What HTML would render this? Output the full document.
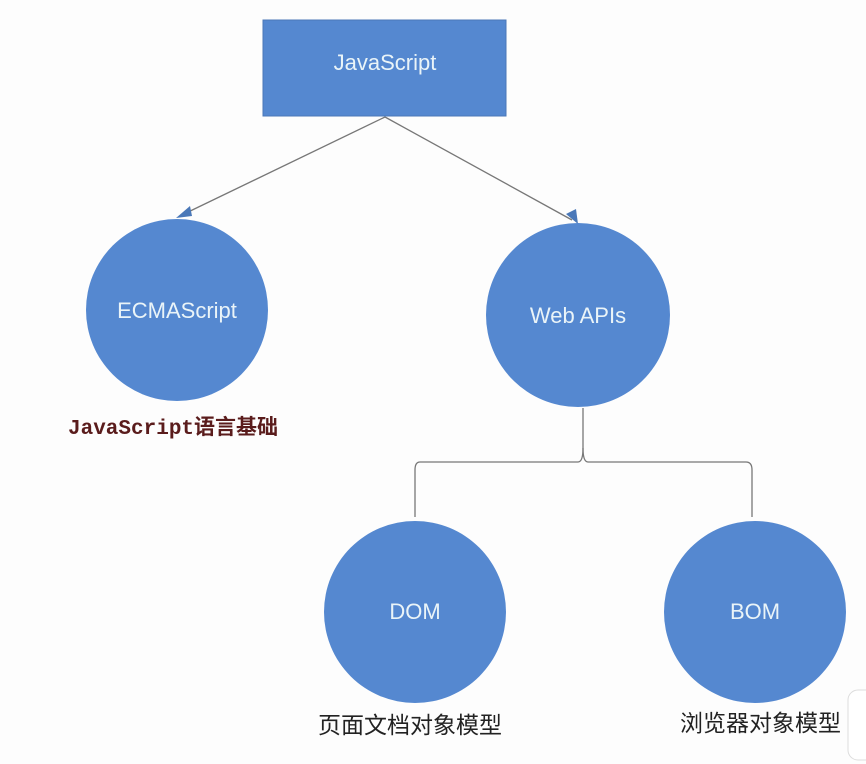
<!DOCTYPE html>
<html><head><meta charset="utf-8"><style>
html,body{margin:0;padding:0;background:#fdfdfd;}
svg{display:block;}
</style></head><body>
<svg width="866" height="764" viewBox="0 0 866 764" xmlns="http://www.w3.org/2000/svg">
<rect width="866" height="764" fill="#fdfdfd"/>
<rect x="263" y="20" width="243" height="96" fill="#5588d0" stroke="#4a78b8" stroke-width="1"/>
<text x="385" y="70" text-anchor="middle" font-family="Liberation Sans, sans-serif" font-size="22" fill="#eaf4f8">JavaScript</text>
<line x1="385" y1="117" x2="184" y2="214" stroke="#777" stroke-width="1.3"/>
<polygon points="176,218 190,206 192,216" fill="#4a78b8"/>
<line x1="385" y1="117" x2="572" y2="220" stroke="#777" stroke-width="1.3"/>
<polygon points="578,224 566,214 576,209" fill="#4a78b8"/>
<circle cx="177" cy="310" r="91" fill="#5588d0"/>
<text x="177" y="318" text-anchor="middle" font-family="Liberation Sans, sans-serif" font-size="22" fill="#eaf4f8">ECMAScript</text>
<circle cx="578" cy="315" r="92" fill="#5588d0"/>
<text x="578" y="323" text-anchor="middle" font-family="Liberation Sans, sans-serif" font-size="22" fill="#eaf4f8">Web APIs</text>
<text x="68" y="434" font-family="Liberation Mono, Noto Sans CJK SC, monospace" font-weight="bold" font-size="21" fill="#5a1c1c">JavaScript语言基础</text>
<path d="M583 408 L583 448 Q583 462 578 462 L420 462 Q415 462 415 470 L415 517" fill="none" stroke="#777" stroke-width="1.3"/>
<path d="M583 448 Q583 462 588 462 L746 462 Q752 462 752 470 L752 517" fill="none" stroke="#777" stroke-width="1.3"/>
<circle cx="415" cy="612" r="91" fill="#5588d0"/>
<text x="415" y="619" text-anchor="middle" font-family="Liberation Sans, sans-serif" font-size="22" fill="#eaf4f8">DOM</text>
<circle cx="755" cy="612" r="91" fill="#5588d0"/>
<text x="755" y="619" text-anchor="middle" font-family="Liberation Sans, sans-serif" font-size="22" fill="#eaf4f8">BOM</text>
<text x="318" y="733" font-family="Noto Sans CJK SC, sans-serif" font-size="23" fill="#222">页面文档对象模型</text>
<text x="680" y="731" font-family="Noto Sans CJK SC, sans-serif" font-size="23" fill="#222">浏览器对象模型</text>
<rect x="848" y="690" width="30" height="70" rx="10" fill="#ffffff" stroke="#ddd"/>
</svg>
</body></html>
